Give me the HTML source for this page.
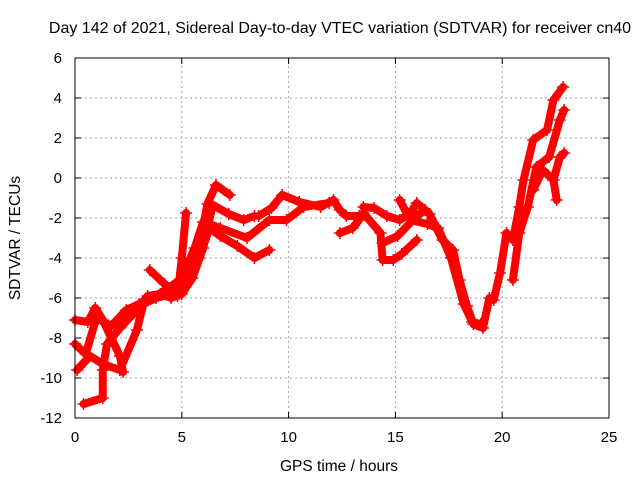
<!DOCTYPE html>
<html><head><meta charset="utf-8"><style>
body{margin:0;background:#fff;}
svg{display:block;font-family:"Liberation Sans",sans-serif;}
</style></head><body>
<svg id="chart" width="640" height="480">
<text x="340" y="33" text-anchor="middle" font-size="16">Day 142 of 2021, Sidereal Day-to-day VTEC variation (SDTVAR) for receiver cn40</text>
<text x="339" y="471" text-anchor="middle" font-size="15.5">GPS time / hours</text>
<text transform="translate(20,238) rotate(-90)" text-anchor="middle" font-size="15.5">SDTVAR / TECUs</text>
<g id="grid"></g><g id="ticks"></g><g id="marks"></g>
<rect x="75" y="58" width="534" height="360" fill="none" stroke="#000"/>
</svg>
<script>
const xTicks=[0,5,10,15,20,25];
const yTicks=[-12,-10,-8,-6,-4,-2,0,2,4,6];
const seriesA=[[0,-7.1],[0.6,-7.2],[0.95,-6.5],[1.3,-7.1],[2.1,-8.9],[2.25,-9.7]];
const seriesB=[[0.1,-9.6],[0.7,-8.9],[1.3,-9.3],[2.1,-9.6],[2.9,-7.6],[3.2,-6.3],[3.8,-6],[4.5,-5.8],[5,-5.5],[5.5,-4.5],[5.9,-3],[6.2,-1.3],[6.6,-0.35],[7.25,-0.85]];
const seriesC=[[0.4,-11.3],[1.3,-11],[1.3,-9.6],[1.5,-8.3],[2.1,-7.5],[2.9,-6.6],[3.4,-5.9],[4,-5.8],[4.5,-6],[5,-5.8],[5.5,-5],[6,-3.5],[6.45,-1.35],[7.2,-1.8],[7.9,-2.1],[8.4,-1.9]];
const seriesD=[[3.5,-4.6],[4.2,-5.3],[4.8,-5.9],[5,-4],[5.2,-1.75]];
const seriesE=[[0,-8.3],[0.5,-8.8],[1,-7],[1.7,-7.4],[2.4,-6.6],[3,-6.3],[3.6,-6],[4.4,-5.5],[5,-5],[5.6,-3.5],[6,-2.2],[6.8,-2.5],[8.05,-3],[9.1,-2.1],[9.9,-2.1],[10.7,-1.45],[11.9,-1.25]];
const seriesF=[[5.8,-4],[6.3,-2.5],[6.8,-2.9],[7.6,-3.4],[8.4,-4],[9.1,-3.6]];
const seriesG=[[8.6,-1.9],[9.2,-1.5],[9.7,-0.85],[10.5,-1.2],[11.5,-1.45],[12.1,-1.1],[12.4,-1.6],[12.7,-1.9],[13.3,-1.9]];
const seriesH=[[13.5,-1.45],[14,-1.5],[14.6,-1.9],[15.2,-2.1],[15.7,-1.75],[16,-1.25],[16.6,-1.8],[17.2,-3.1],[17.7,-3.6],[18,-5.1],[18.35,-6.4],[18.65,-7.3],[19.1,-7.5],[19.4,-6]];
const seriesI=[[13.5,-1.75],[14.3,-2.75],[14.4,-4.1],[14.9,-4.1],[15.3,-3.8],[16,-3.1]];
const seriesJ=[[14.4,-3.25],[15.1,-2.9],[16,-1.9],[16.4,-1.6]];
const seriesK=[[12.4,-2.75],[13,-2.5],[13.3,-2.1]];
const seriesL=[[15.2,-1.1],[15.7,-2.1],[16.5,-2.3],[17,-2.5],[17.6,-4],[18.2,-6.3],[18.6,-7.2],[19,-7.3]];
const seriesM=[[19.6,-6.1],[19.9,-4.75],[20.2,-2.75],[20.5,-3.1],[20.8,-1.45],[21,-0.1],[21.45,1.9],[22.1,2.4],[22.4,3.9],[22.85,4.55]];
const seriesN=[[20.5,-5.1],[20.8,-2.75],[21.2,-1.45],[21.6,0.55],[22.2,1.05],[22.7,2.9],[22.9,3.4]];
const seriesO=[[21.45,-0.6],[21.9,0.4],[22.4,-0.1],[22.55,-1.1]];
const seriesP=[[22.4,-0.1],[22.7,1.05],[22.9,1.25]];
const allSeries=[seriesA,seriesB,seriesC,seriesD,seriesE,seriesF,seriesG,seriesH,seriesI,seriesJ,seriesK,seriesL,seriesM,seriesN,seriesO,seriesP];

const X0=75,X1=609,Y0=418,Y1=58;
const xs=v=>X0+(v-0)/(25-0)*(X1-X0);
const ys=v=>Y0-(v+12)/(6+12)*(Y0-Y1);
const NS="http://www.w3.org/2000/svg";
function mk(tag,attrs,parent){const e=document.createElementNS(NS,tag);for(const k in attrs)e.setAttribute(k,attrs[k]);parent.appendChild(e);return e;}
const grid=document.getElementById('grid'),ticks=document.getElementById('ticks'),marks=document.getElementById('marks');

xTicks.forEach(t=>{
  const x=xs(t);
  if(t>0&&t<25){const g=mk('line',{x1:x,x2:x,y1:Y0,y2:Y1,stroke:'#a0a0a0','stroke-dasharray':'2,3'},grid);
  
  }
  mk('line',{x1:x,x2:x,y1:Y0,y2:Y0-6,stroke:'#000'},ticks);
  mk('line',{x1:x,x2:x,y1:Y1,y2:Y1+6,stroke:'#000'},ticks);
  const l=mk('text',{x:x,y:Y0+24,'text-anchor':'middle','font-size':15},ticks);
  l.textContent=t;
  
  
});
yTicks.forEach(t=>{
  const y=ys(t);
  if(t>-12&&t<6){const g=mk('line',{x1:X0,x2:X1,y1:y,y2:y,stroke:'#a0a0a0','stroke-dasharray':'2,3'},grid);
  
  }
  mk('line',{x1:X0,x2:X0+6,y1:y,y2:y,stroke:'#000'},ticks);
  mk('line',{x1:X1,x2:X1-6,y1:y,y2:y,stroke:'#000'},ticks);
  const l=mk('text',{x:X0-13,y:y+5,'text-anchor':'end','font-size':15},ticks);
  l.textContent=t;
  
  
});
allSeries.forEach((s,i)=>{
  const pts=s.map(p=>xs(p[0])+','+ys(p[1])).join(' ');
  const pl=mk('polyline',{points:pts,fill:'none',stroke:'#ff0000','stroke-width':8,'stroke-linejoin':'round','stroke-linecap':'round'},marks);
  
  
  s.forEach(p=>{
    const x=xs(p[0]),y=ys(p[1]);
    const m=mk('path',{d:`M${x-6},${y}H${x+6}M${x},${y-6}V${y+6}`,stroke:'#ff0000','stroke-width':1.5},marks);
    
    
  });
});
</script>
</body></html>
